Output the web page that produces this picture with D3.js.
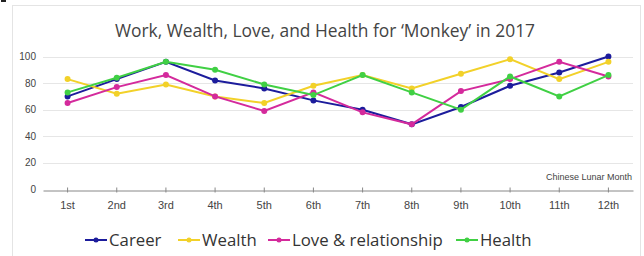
<!DOCTYPE html>
<html>
<head>
<meta charset="utf-8">
<script src="https://cdnjs.cloudflare.com/ajax/libs/d3/7.8.5/d3.min.js"></script>
<style>
body { margin: 0; background: #fff; }
svg { display: block; font-family: "Liberation Sans", Arial, sans-serif; }
</style>
</head>
<body>
<svg width="644" height="256"></svg>
<script>
// chart values
var months = ["1st","2nd","3rd","4th","5th","6th","7th","8th","9th","10th","11th","12th"];
var career = [70, 83, 96, 82, 76, 67, 60, 49, 62, 78, 88, 100];
var wealth = [83, 72, 79, 70, 65, 78, 86, 76, 87, 98, 83, 96];
var love   = [65, 77, 86, 70, 59, 73, 58, 49, 74, 83, 96, 85];
var health = [73, 84, 96, 90, 79, 71, 86, 73, 60, 85, 70, 86];
var yTicks = [0, 20, 40, 60, 80, 100];
var seriesNames = ["Career", "Wealth", "Love & relationship", "Health"];
var colors = ["#1c1c9c", "#f2d129", "#d42a9c", "#40d044"];

var svg = d3.select("svg");

// frame
svg.append("rect").attr("x", 12.5).attr("y", 5.5).attr("width", 628).attr("height", 260)
	.attr("fill", "none").attr("stroke", "#e4e4e4");
svg.append("rect").attr("x", 1).attr("y", 0).attr("width", 5).attr("height", 2).attr("fill", "#222");

var x = d3.scaleBand().domain(months).range([43, 633]);
var y = d3.scaleLinear().domain([0, 100]).range([189.5, 56.5]);

svg.append("text").attr("x", 325).attr("y", 37).attr("text-anchor", "middle")
	.attr("font-family", "Open Sans, sans-serif")
	.attr("font-size", 17.4).attr("fill", "#444")
	.text("Work, Wealth, Love, and Health for \u2018Monkey\u2019 in 2017");

// grid
svg.append("g").selectAll("line").data(yTicks.slice(1)).enter().append("line")
	.attr("x1", 43).attr("x2", 633)
	.attr("y1", function(d){ return Math.round(y(d)) + 0.5; })
	.attr("y2", function(d){ return Math.round(y(d)) + 0.5; })
	.attr("stroke", "#e6e6e6");

svg.append("g").selectAll("text").data(yTicks).enter().append("text")
	.attr("x", 36).attr("y", function(d){ return y(d) + 3.5; })
	.attr("text-anchor", "end").attr("font-size", 10).attr("fill", "#444")
	.text(function(d){ return d; });

var xAxis = svg.append("g").attr("transform", "translate(0," + (Math.round(y(0)) + 0.5) + ")")
	.call(d3.axisBottom(x).tickSize(3).tickSizeOuter(0));
xAxis.select(".domain").attr("stroke", "#888");
xAxis.selectAll(".tick line").attr("stroke", "#888").attr("y1", -3).attr("y2", 2);
xAxis.selectAll(".tick text").attr("font-size", 11).attr("fill", "#444")
	.attr("font-family", "Liberation Sans, Arial, sans-serif").attr("dy", "1.1em");

svg.append("text").attr("x", 632).attr("y", 180).attr("text-anchor", "end")
	.attr("font-size", 9).attr("fill", "#444").text("Chinese Lunar Month");

var allSeries = [career, wealth, love, health];
var line = d3.line()
	.x(function(d, i){ return x(months[i]) + x.bandwidth() / 2; })
	.y(function(d){ return y(d); });

allSeries.forEach(function(vals, k){
	svg.append("path").datum(vals).attr("d", line)
		.attr("fill", "none").attr("stroke", colors[k]).attr("stroke-width", 2);
	svg.append("g").selectAll("circle").data(vals).enter().append("circle")
		.attr("cx", function(d, i){ return x(months[i]) + x.bandwidth() / 2; })
		.attr("cy", function(d){ return y(d); })
		.attr("r", 3).attr("fill", colors[k]);
});

// legend
var legendX = [85, 178, 268, 456];
var leg = svg.append("g").selectAll("g").data(seriesNames).enter().append("g")
	.attr("transform", function(d, i){ return "translate(" + legendX[i] + ",240)"; });
leg.append("line").attr("x1", 0).attr("x2", 22).attr("y1", 0).attr("y2", 0)
	.attr("stroke", function(d, i){ return colors[i]; }).attr("stroke-width", 2);
leg.append("circle").attr("cx", 11).attr("cy", 0).attr("r", 2.5)
	.attr("fill", function(d, i){ return colors[i]; });
leg.append("text").attr("x", 24).attr("y", 6).attr("font-size", 16.8).attr("fill", "#333")
	.attr("font-family", "Open Sans, sans-serif")
	.text(function(d){ return d; });
</script>
</body>
</html>
